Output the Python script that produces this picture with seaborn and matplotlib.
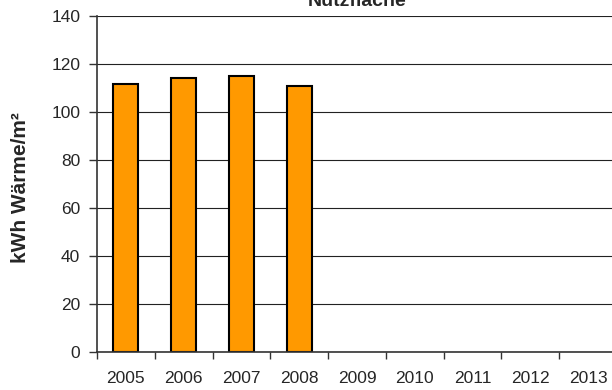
import numpy as np
import pandas as pd
import seaborn as sns
from matplotlib import pyplot as plt

# values
years = ['2005', '2006', '2007', '2008', '2009', '2010', '2011', '2012', '2013']
kwh_per_m2 = [111.7, 114.2, 115.1, 110.8, np.nan, np.nan, np.nan, np.nan, np.nan]
y_ticks = [0, 20, 40, 60, 80, 100, 120, 140]

df = pd.DataFrame({'year': years, 'kwh': kwh_per_m2})

sns.set_style('white')
plt.rcParams['font.family'] = ['Liberation Sans', 'DejaVu Sans']

fig = plt.figure(figsize=(6.12, 3.9), dpi=100)
ax = fig.add_axes([97 / 612, 1 - 352 / 390, 520 / 612, 336 / 390])

sns.barplot(data=df, x='year', y='kwh', order=years, color='#FF9900',
            width=0.43, edgecolor='black', linewidth=1.5, saturation=1, ax=ax)

ax.set_ylim(0, 140)
ax.set_xlim(-0.5, len(years) - 0.5)
ax.set_yticks(y_ticks)
ax.yaxis.grid(True, color='#222222', linewidth=0.8)
ax.set_axisbelow(True)

# ticks at category boundaries, labels in the middle
ax.set_xticks(np.arange(len(years)))
ax.set_xticklabels(years)
ax.set_xticks(np.arange(len(years) + 1) - 0.5, minor=True)
ax.tick_params(axis='x', which='major', length=0, pad=14, labelsize=12.5)
ax.tick_params(axis='x', which='minor', length=5, width=1, color='#333333', direction='out')
ax.tick_params(axis='y', length=6, width=1, color='#333333', direction='out', labelsize=12.5, pad=6)
ax.tick_params(bottom=True, left=True, which='both')

for s in ['top', 'right']:
    ax.spines[s].set_visible(False)
ax.spines['left'].set_color('#333333')
ax.spines['bottom'].set_color('#333333')
ax.spines['left'].set_linewidth(1.2)
ax.spines['bottom'].set_linewidth(1.2)

ax.set_xlabel('')
ax.set_ylabel('')
fig.text(21 / 612, 1 - 188 / 390, 'kWh Wärme/m²', rotation=90, ha='center', va='center',
         fontsize=15, fontweight='bold')

# title is clipped at the top of the image, as in the reference
fig.text(357 / 612, 1 - 6 / 390, 'Nutzfläche', ha='center', va='baseline',
         fontsize=14, fontweight='bold')

fig.savefig('out.png', dpi=100)
